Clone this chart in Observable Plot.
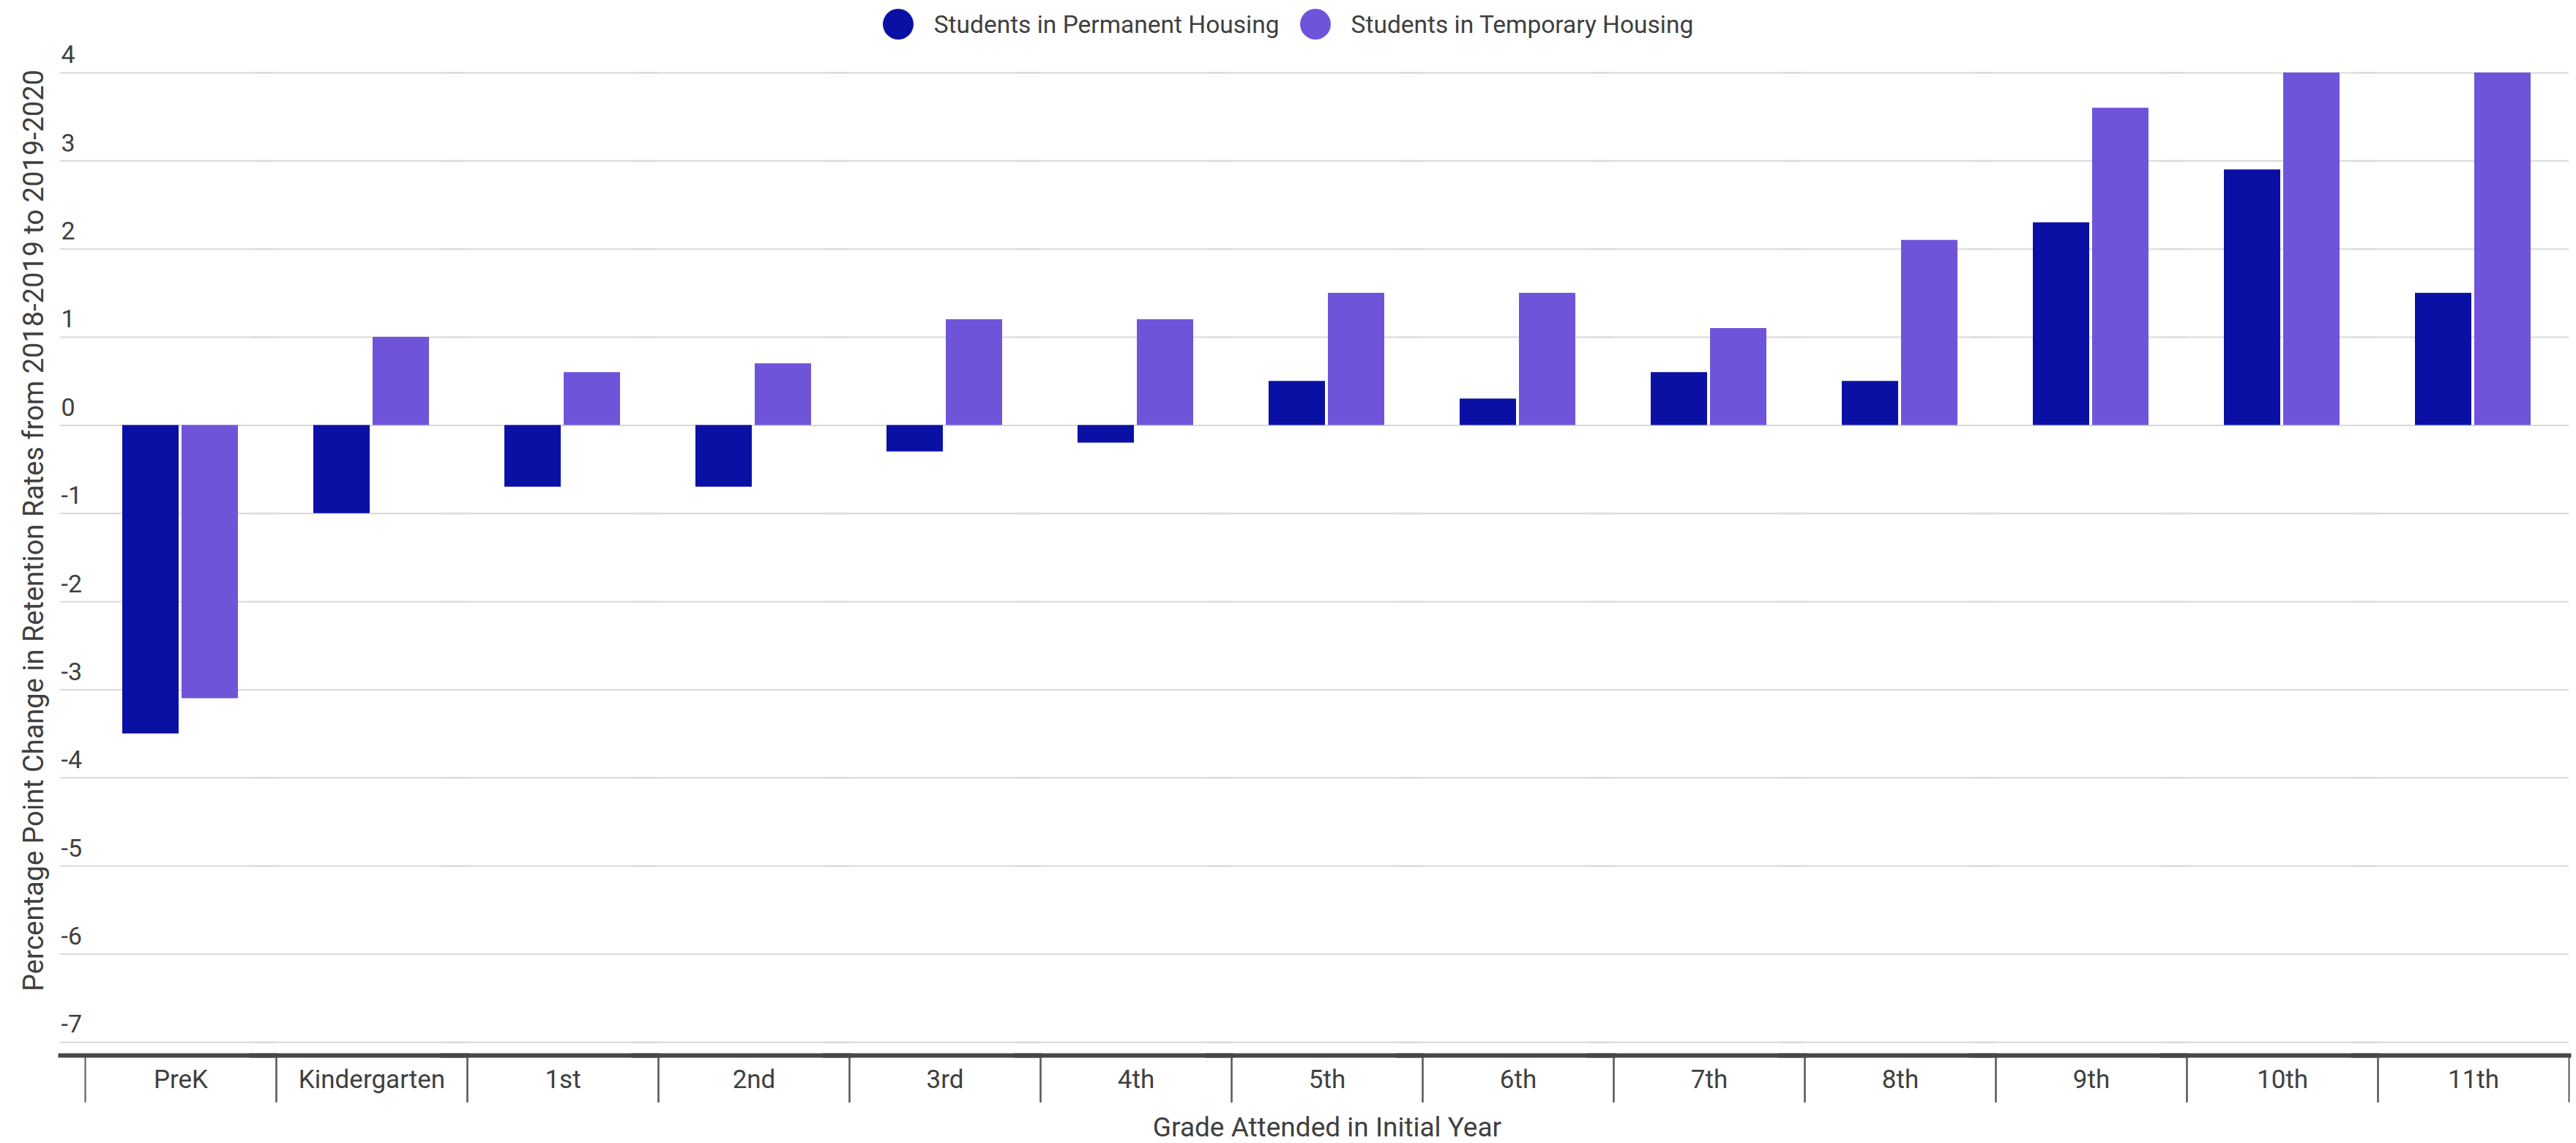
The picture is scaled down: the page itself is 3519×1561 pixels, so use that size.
<!DOCTYPE html>
<html>
<head>
<meta charset="utf-8">
<script src="https://cdn.jsdelivr.net/npm/d3@7"></script>
<script src="https://cdn.jsdelivr.net/npm/@observablehq/plot@0.6"></script>
<style>
  body { margin: 0; background: #fff; font-family: Roboto, sans-serif; }
  #legend { height: 66px; display: flex; justify-content: center; align-items: center; gap: 28px; color: #404040; font-size: 33.5px; }
  #legend .item { display: flex; align-items: center; gap: 28px; }
  #legend .dot { width: 42px; height: 42px; border-radius: 50%; }
</style>
</head>
<body>
<div id="legend"></div>
<div id="chart"></div>
<script>
const grades = ["PreK", "Kindergarten", "1st", "2nd", "3rd", "4th", "5th", "6th", "7th", "8th", "9th", "10th", "11th"];
const series = ["Students in Permanent Housing", "Students in Temporary Housing"];
const permanent = [-3.5, -1.0, -0.7, -0.7, -0.3, -0.2, 0.5, 0.3, 0.6, 0.5, 2.3, 2.9, 1.5];
const temporary = [-3.1, 1.0, 0.6, 0.7, 1.2, 1.2, 1.5, 1.5, 1.1, 2.1, 3.6, 4.0, 4.0];
const colors = ["#0b10a4", "#6f54da"];
const yTicks = [-7, -6, -5, -4, -3, -2, -1, 0, 1, 2, 3, 4];
const yTitle = "Percentage Point Change in Retention Rates from 2018-2019 to 2019-2020";
const xTitle = "Grade Attended in Initial Year";

const rows = grades.flatMap((g, i) => [
  {grade: g, series: series[0], value: permanent[i]},
  {grade: g, series: series[1], value: temporary[i]}
]);

// legend
const legend = d3.select("#legend");
series.forEach((s, i) => {
  const item = legend.append("div").attr("class", "item");
  item.append("div").attr("class", "dot").style("background", colors[i]);
  item.append("span").text(s);
});

const textColor = "#404040";

const chart = Plot.plot({
  width: 3519,
  height: 1495,
  marginLeft: 112,
  marginRight: 6,
  marginTop: 33,
  marginBottom: 120,
  style: {fontFamily: "Roboto", fontSize: "32px", color: textColor, overflow: "visible"},
  fx: {domain: grades, padding: 0, axis: null},
  x: {domain: series, paddingInner: 0.049, paddingOuter: 0.62, axis: null},
  y: {domain: [-7.15, 4], axis: null},
  color: {domain: series, range: colors},
  marks: [
    Plot.gridY(yTicks, {stroke: "#d9d9d9", strokeOpacity: 1, strokeWidth: 2, insetLeft: -34}),
    Plot.barY(rows, {fx: "grade", x: "series", y: "value", fill: "series"}),
    Plot.axisY(yTicks, {
      anchor: "left", tickSize: 0, tickPadding: 0, textAnchor: "start",
      dx: -33, dy: -24, tickFormat: d => String(d), fontSize: 34, fill: textColor, label: null
    }),
    Plot.frame({anchor: "bottom", stroke: "#474747", strokeWidth: 6, insetLeft: -34}),
    Plot.frame({anchor: "left", stroke: "#555", strokeWidth: 2, insetTop: 1345, insetBottom: -63}),
    Plot.frame({anchor: "right", stroke: "#555", strokeWidth: 2, insetTop: 1345, insetBottom: -63}),
    Plot.axisFx({anchor: "bottom", tickSize: 0, tickPadding: 20, fontSize: 35, fill: textColor, label: null}),
    Plot.text([yTitle], {
      facet: "super", frameAnchor: "left", text: d => d, textAnchor: "middle", lineAnchor: "middle",
      rotate: -90, dx: -70, dy: -46, fontSize: 38, fill: textColor
    }),
    Plot.text([xTitle], {
      facet: "super", frameAnchor: "bottom", text: d => d, textAnchor: "middle", lineAnchor: "middle",
      dy: 99, fontSize: 37, fill: textColor
    })
  ]
});

document.getElementById("chart").append(chart);
</script>
</body>
</html>
